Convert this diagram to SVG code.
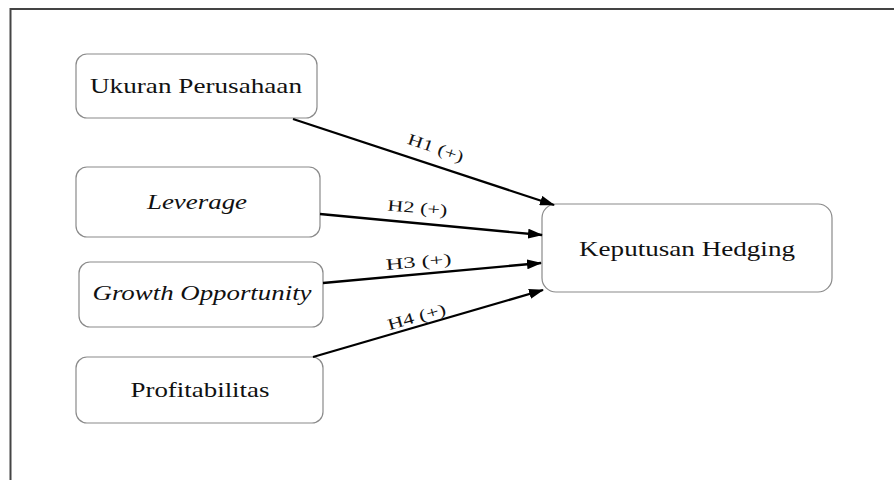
<svg xmlns="http://www.w3.org/2000/svg" width="894" height="480" viewBox="0 0 894 480">
<style>
.frame{stroke:#444;stroke-width:2;fill:none}
.box{fill:#fff;stroke:#8a8a8a;stroke-width:1.2}
.t{font-family:"Liberation Serif","Times New Roman",serif;font-size:21px;fill:#111;text-anchor:middle}
.i{font-style:italic}
.lbl{font-family:"Liberation Serif","Times New Roman",serif;font-size:16px;fill:#111;text-anchor:middle}
.edge{stroke:#000;stroke-width:2.3;fill:none;marker-end:url(#arr)}
</style>
<defs>
<marker id="arr" markerWidth="15" markerHeight="10" refX="14" refY="5" orient="auto" markerUnits="userSpaceOnUse">
<path d="M0,0 L15,5 L0,10 Z" fill="#000"/>
</marker>
</defs>
<rect width="894" height="480" fill="#fff"/>
<path class="frame" d="M10.5,480 V9 H894"/>
<g id="n1"><rect class="box" x="76" y="54" width="241" height="64" rx="11"/><text class="t" x="196" y="93" textLength="212" lengthAdjust="spacingAndGlyphs">Ukuran Perusahaan</text></g>
<g id="n2"><rect class="box" x="76" y="167" width="244" height="70" rx="11"/><text class="t i" x="197" y="209" textLength="100" lengthAdjust="spacingAndGlyphs">Leverage</text></g>
<g id="n3"><rect class="box" x="79" y="262" width="244" height="65" rx="11"/><text class="t i" x="202" y="300" textLength="219" lengthAdjust="spacingAndGlyphs">Growth Opportunity</text></g>
<g id="n4"><rect class="box" x="76" y="357" width="247" height="66" rx="11"/><text class="t" x="200" y="397" textLength="139" lengthAdjust="spacingAndGlyphs">Profitabilitas</text></g>
<g id="n5"><rect class="box" x="542" y="204" width="290" height="88" rx="14"/><text class="t" x="687" y="256" textLength="216" lengthAdjust="spacingAndGlyphs">Keputusan Hedging</text></g>
<g id="edges">
<line class="edge" x1="293" y1="119" x2="554" y2="205"/>
<line class="edge" x1="320" y1="214" x2="542" y2="235"/>
<line class="edge" x1="323" y1="283" x2="541" y2="263"/>
<line class="edge" x1="313" y1="357" x2="543" y2="290"/>
<text class="lbl" transform="translate(434,153) rotate(19)" textLength="58" lengthAdjust="spacingAndGlyphs">H1 (+)</text>
<text class="lbl" transform="translate(417,213) rotate(5)" textLength="60" lengthAdjust="spacingAndGlyphs">H2 (+)</text>
<text class="lbl" transform="translate(419,267) rotate(-5)" textLength="66" lengthAdjust="spacingAndGlyphs">H3 (+)</text>
<text class="lbl" transform="translate(418,322) rotate(-16)" textLength="60" lengthAdjust="spacingAndGlyphs">H4 (+)</text>
</g>
</svg>
